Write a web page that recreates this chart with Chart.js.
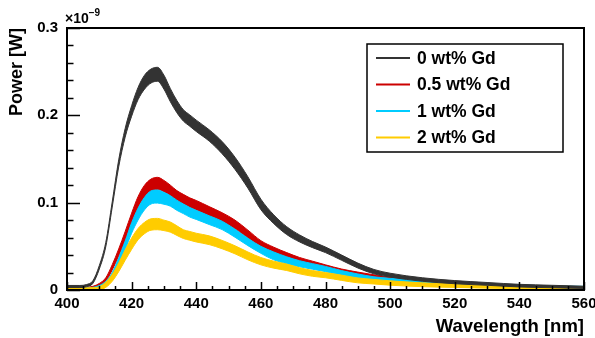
<!DOCTYPE html>
<html>
<head>
<meta charset="utf-8">
<script src="https://cdn.jsdelivr.net/npm/chart.js@4"></script>
<style>
  body { margin: 0; background: #fff; }
  .box { width: 595px; height: 338px; }
</style>
</head>
<body>
<div class="box"><canvas class="power-chart"></canvas></div>
<script>
// wavelength in nm, power in units of 1e-9 W
const wavelengths = [400, 404, 406, 408, 410, 412, 414, 416, 418, 420,
  422, 424, 426, 428, 430, 432, 434, 436, 438, 440,
  444, 448, 452, 456, 460, 464, 468, 472, 476, 480,
  485, 490, 495, 500, 510, 520, 530, 540, 550, 560];

const gd0 = [0.004, 0.004, 0.005, 0.009, 0.026, 0.052, 0.098, 0.145, 0.180, 0.205,
  0.225, 0.238, 0.245, 0.247, 0.238, 0.223, 0.210, 0.200, 0.194, 0.188,
  0.177, 0.163, 0.145, 0.123, 0.098, 0.081, 0.068, 0.059, 0.052, 0.046,
  0.037, 0.028, 0.021, 0.017, 0.012, 0.009, 0.007, 0.005, 0.004, 0.003];
const gd0Err = [0.0012, 0.0012, 0.0012, 0.0015, 0.002, 0.0025, 0.003, 0.004, 0.005, 0.006,
  0.007, 0.008, 0.008, 0.008, 0.008, 0.0075, 0.007, 0.0065, 0.0065, 0.0065,
  0.0065, 0.007, 0.007, 0.0065, 0.006, 0.005, 0.0045, 0.004, 0.0035, 0.0032,
  0.003, 0.0028, 0.0025, 0.0022, 0.002, 0.0018, 0.0016, 0.0015, 0.0014, 0.0013];

const gd05 = [0.001, 0.001, 0.002, 0.003, 0.006, 0.012, 0.026, 0.043, 0.062, 0.082,
  0.100, 0.113, 0.120, 0.122, 0.119, 0.114, 0.108, 0.104, 0.100, 0.097,
  0.090, 0.083, 0.075, 0.064, 0.053, 0.046, 0.040, 0.035, 0.031, 0.027,
  0.0225, 0.019, 0.016, 0.0135, 0.010, 0.008, 0.006, 0.0045, 0.0035, 0.003];
const gd05Err = [0.001, 0.001, 0.001, 0.0012, 0.0015, 0.002, 0.003, 0.004, 0.005, 0.006,
  0.007, 0.007, 0.007, 0.007, 0.0065, 0.006, 0.0058, 0.0055, 0.0055, 0.0055,
  0.0055, 0.0055, 0.005, 0.0045, 0.0035, 0.003, 0.0028, 0.0022, 0.002, 0.0018,
  0.0015, 0.0015, 0.0014, 0.0013, 0.0012, 0.0011, 0.001, 0.001, 0.001, 0.001];

const gd1 = [0.001, 0.001, 0.0015, 0.002, 0.004, 0.008, 0.017, 0.033, 0.051, 0.071,
  0.087, 0.099, 0.106, 0.107, 0.105, 0.102, 0.097, 0.093, 0.089, 0.086,
  0.080, 0.074, 0.065, 0.055, 0.046, 0.039, 0.034, 0.030, 0.027, 0.024,
  0.0195, 0.016, 0.013, 0.0115, 0.009, 0.007, 0.0055, 0.0045, 0.0035, 0.003];
const gd1Err = [0.001, 0.001, 0.001, 0.001, 0.0012, 0.002, 0.003, 0.004, 0.005, 0.006,
  0.0068, 0.0072, 0.0075, 0.0075, 0.0068, 0.006, 0.0058, 0.0055, 0.0055, 0.0052,
  0.005, 0.0048, 0.0046, 0.0042, 0.004, 0.0045, 0.004, 0.0035, 0.0032, 0.003,
  0.0027, 0.0024, 0.0021, 0.0019, 0.0016, 0.0015, 0.0013, 0.0012, 0.0012, 0.0012];

const gd2 = [0.001, 0.001, 0.001, 0.0012, 0.002, 0.006, 0.014, 0.026, 0.040, 0.053,
  0.064, 0.071, 0.075, 0.0755, 0.074, 0.072, 0.068, 0.064, 0.062, 0.060,
  0.057, 0.052, 0.046, 0.039, 0.033, 0.029, 0.026, 0.022, 0.019, 0.017,
  0.014, 0.011, 0.0095, 0.008, 0.006, 0.005, 0.004, 0.0033, 0.0027, 0.0022];
const gd2Err = [0.0015, 0.0015, 0.0015, 0.0015, 0.0018, 0.003, 0.004, 0.005, 0.006, 0.0065,
  0.0065, 0.0065, 0.0065, 0.0065, 0.006, 0.0058, 0.0055, 0.005, 0.005, 0.005,
  0.005, 0.0048, 0.0046, 0.0045, 0.0042, 0.004, 0.0037, 0.0035, 0.0033, 0.003,
  0.003, 0.0028, 0.0026, 0.0025, 0.0022, 0.002, 0.0019, 0.0018, 0.0017, 0.0016];

const seriesLabels = ['0 wt% Gd', '0.5 wt% Gd', '1 wt% Gd', '2 wt% Gd'];
const seriesColors = ['#333333', '#cc0000', '#00ccff', '#ffcc00'];
const seriesValues = [gd0, gd05, gd1, gd2];
const seriesErrors = [gd0Err, gd05Err, gd1Err, gd2Err];
const drawOrder = [1, 4, 3, 2];

const xTicks = [400, 420, 440, 460, 480, 500, 520, 540, 560];
const yTicks = [0, 0.1, 0.2, 0.3];

const FONT = "'Liberation Sans', Arial, Helvetica, sans-serif";

function band (values, errors, sign) {
  return wavelengths.map((w, i) => ({ x: w, y: values[i] + sign * errors[i] }));
}

const datasets = [];
seriesValues.forEach((vals, k) => {
  datasets.push({
    label: seriesLabels[k] + ' low',
    data: band(vals, seriesErrors[k], -1),
    borderColor: seriesColors[k],
    borderWidth: 1,
    pointRadius: 0,
    fill: false,
    cubicInterpolationMode: 'monotone',
    order: drawOrder[k]
  });
  datasets.push({
    label: seriesLabels[k],
    data: band(vals, seriesErrors[k], 1),
    borderColor: seriesColors[k],
    backgroundColor: seriesColors[k],
    borderWidth: 1,
    pointRadius: 0,
    fill: '-1',
    cubicInterpolationMode: 'monotone',
    order: drawOrder[k]
  });
});

// frame, inner ticks, exponent, legend in ROOT style
const rootStyle = {
  id: 'rootStyle',
  afterDraw (chart) {
    const ctx = chart.ctx;
    const a = chart.chartArea;
    const xs = chart.scales.x;
    const ys = chart.scales.y;
    ctx.save();
    ctx.strokeStyle = '#000';
    ctx.lineWidth = 1.5;
    ctx.beginPath();
    for (let v = 400; v <= 560; v += 5) {
      const px = Math.round(xs.getPixelForValue(v)) + 0.5;
      const len = v % 20 === 0 ? 8 : 4;
      ctx.moveTo(px, a.bottom);
      ctx.lineTo(px, a.bottom - len);
    }
    for (let i = 0; i <= 15; i++) {
      const v = i * 0.02;
      const py = Math.round(ys.getPixelForValue(v)) + 0.5;
      const len = i % 5 === 0 ? 13 : 6.5;
      ctx.moveTo(a.left, py);
      ctx.lineTo(a.left + len, py);
    }
    ctx.stroke();

    ctx.lineWidth = 2;
    ctx.strokeRect(a.left, a.top, a.right - a.left, a.bottom - a.top);

    // exponent
    ctx.fillStyle = '#000';
    ctx.textBaseline = 'alphabetic';
    ctx.textAlign = 'left';
    ctx.font = 'bold 14px ' + FONT;
    ctx.fillText('\u00d710', a.left - 2, 23);
    const w = ctx.measureText('\u00d710').width;
    ctx.font = 'bold 10px ' + FONT;
    ctx.fillText('\u22129', a.left - 2 + w, 16);

    // legend
    const lx = 367, ly = 44, lw = 196, lh = 108;
    ctx.fillStyle = '#fff';
    ctx.fillRect(lx, ly, lw, lh);
    ctx.lineWidth = 1.5;
    ctx.strokeRect(lx, ly, lw, lh);
    ctx.font = 'bold 17.5px ' + FONT;
    ctx.textBaseline = 'middle';
    seriesLabels.forEach((label, k) => {
      const y = 58 + k * 26.5;
      ctx.strokeStyle = seriesColors[k];
      ctx.lineWidth = 2;
      ctx.beginPath();
      ctx.moveTo(376, y);
      ctx.lineTo(410, y);
      ctx.stroke();
      ctx.fillStyle = '#000';
      ctx.fillText(label, 417, y + 1);
    });
    ctx.restore();
  }
};

function displayPowerChart () {
  const ctx = document.querySelector('.power-chart');

  new Chart(ctx, {
    type: 'line',
    data: { datasets: datasets },
    options: {
      animation: false,
      responsive: true,
      maintainAspectRatio: false,
      layout: { padding: { top: 28, right: 11, left: 0, bottom: 0 } },
      plugins: {
        legend: { display: false },
        tooltip: { enabled: false }
      },
      scales: {
        x: {
          type: 'linear',
          min: 400,
          max: 560,
          grid: { display: false, drawTicks: false },
          border: { display: false },
          afterBuildTicks: (s) => { s.ticks = xTicks.map(v => ({ value: v })); },
          afterFit: (s) => { s.height = 48; s.paddingLeft = 0; s.paddingRight = 0; },
          ticks: {
            autoSkip: false,
            maxRotation: 0,
            padding: 5,
            color: '#000',
            font: { family: FONT, size: 15, weight: 'bold' }
          },
          title: {
            display: true,
            text: 'Wavelength [nm]',
            align: 'end',
            color: '#000',
            padding: { top: 2, bottom: 0 },
            font: { family: FONT, size: 18.5, weight: 'bold' }
          }
        },
        y: {
          min: 0,
          max: 0.3,
          grid: { display: false, drawTicks: false },
          border: { display: false },
          afterBuildTicks: (s) => { s.ticks = yTicks.map(v => ({ value: v })); },
          afterFit: (s) => { s.width = 67; s.paddingTop = 0; s.paddingBottom = 0; },
          ticks: {
            padding: 9,
            color: '#000',
            font: { family: FONT, size: 15, weight: 'bold' },
            callback: (v) => v === 0 ? '0' : v.toFixed(1)
          },
          title: {
            display: true,
            text: 'Power [W]',
            align: 'end',
            color: '#000',
            padding: { top: 6, bottom: 0 },
            font: { family: FONT, size: 18, weight: 'bold' }
          }
        }
      }
    },
    plugins: [rootStyle]
  });
}

displayPowerChart();
</script>
</body>
</html>
